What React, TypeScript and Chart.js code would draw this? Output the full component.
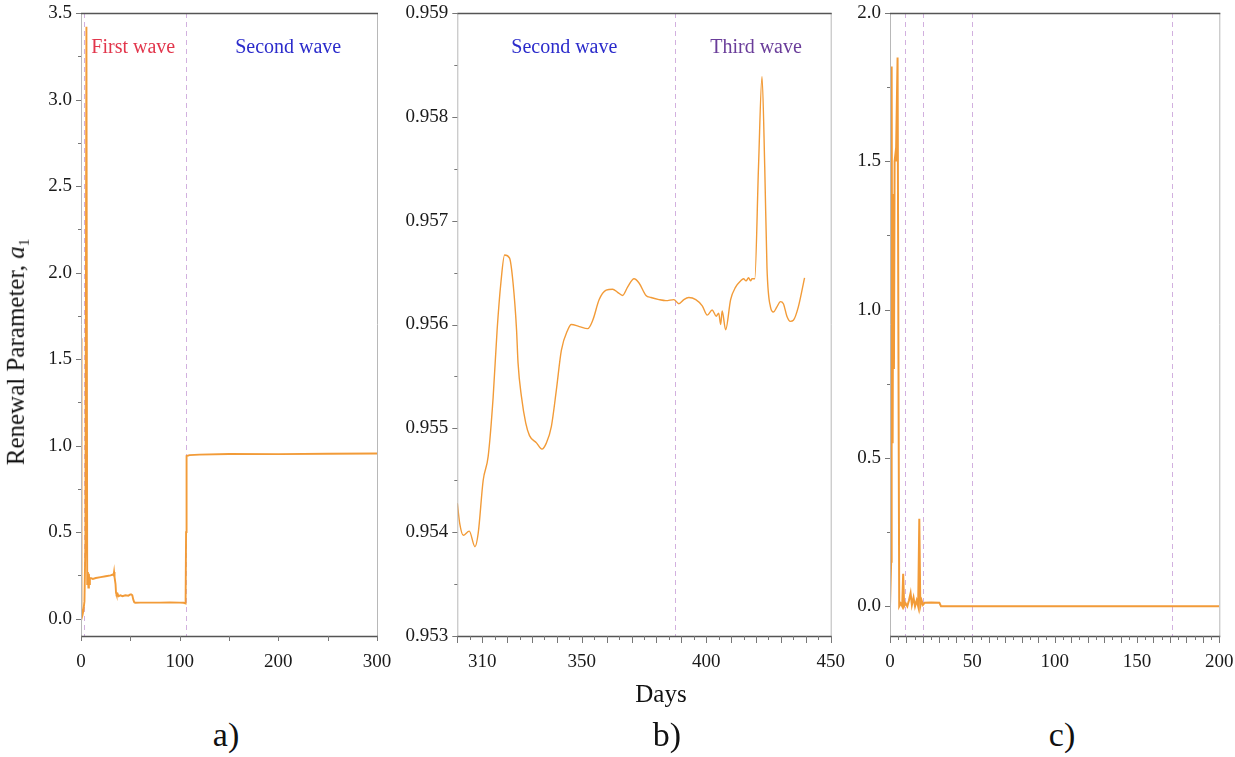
import React, { useEffect, useRef } from "react";
import { Chart, registerables } from "chart.js";
Chart.register(...registerables);

const FONT = '"Liberation Serif", "Times New Roman", serif';
const LINE_COLOR = "#F29B38";

// ---------- Panel a ----------
const daysA = [0, 0.3, 0.7, 1.5, 2.5, 3.5, 4.5, 5.5, 6.3, 7, 7.5, 8, 8.5, 9, 10, 12, 15, 20, 25, 30, 32, 33, 33.5, 34, 35, 35.5, 36, 37, 38, 40, 42, 45, 48, 50, 51, 52, 53, 54, 55, 60, 70, 80, 90, 100, 104, 106, 106.5, 107, 110, 120, 150, 200, 250, 300];
const valuesA = [1.62, 0.3, 0.0, 0.02, 0.05, 0.1, 0.45, 3.42, 0.2, 0.27, 0.18, 0.26, 0.2, 0.23, 0.235, 0.23, 0.235, 0.24, 0.245, 0.25, 0.255, 0.25, 0.27, 0.24, 0.2, 0.15, 0.14, 0.145, 0.13, 0.135, 0.13, 0.135, 0.133, 0.14, 0.14, 0.135, 0.11, 0.095, 0.092, 0.093, 0.093, 0.093, 0.094, 0.093, 0.092, 0.088, 0.5, 0.94, 0.945, 0.948, 0.952, 0.951, 0.953, 0.955];
const xLabelsA = [0, 100, 200, 300];
const xMajorA = [0, 50, 100, 150, 200, 250, 300];
const yLabelsA = [0, 0.5, 1, 1.5, 2, 2.5, 3, 3.5];
const yMinorA = [0.25, 0.75, 1.25, 1.75, 2.25, 2.75, 3.25];
const dashedA = [3.3, 106];

// ---------- Panel b ----------
const daysB = [300, 301, 302.4, 304.8, 307.1, 308.4, 310.4, 312.4, 314.4, 316, 317.5, 319, 321, 322.4, 323.8, 324.4, 325.8, 327.5, 329, 331.8, 334, 335.8, 337.8, 339.8, 341.8, 344.4, 345.8, 349, 352.4, 354.4, 357, 359.8, 362.4, 364.4, 366.4, 368.4, 371, 373, 375.8, 377.8, 381, 383.8, 387, 389, 391, 393, 395.8, 398.4, 400.4, 402.4, 404, 405, 405.8, 406.4, 407.8, 409.8, 411.8, 413.8, 415, 416, 417, 417.8, 418.4, 419.5, 421, 422.4, 423.5, 424.4, 425.8, 427, 428.4, 429.8, 431, 432.4, 433.8, 435, 437, 439.5];
const valuesB = [0.95428, 0.95408, 0.95397, 0.95401, 0.95386, 0.95399, 0.9545, 0.95473, 0.9553, 0.95595, 0.9564, 0.95667, 0.95664, 0.9564, 0.95595, 0.95563, 0.9553, 0.95505, 0.95493, 0.95486, 0.9548, 0.95486, 0.95502, 0.95537, 0.95575, 0.95595, 0.956, 0.95598, 0.95596, 0.95604, 0.95624, 0.95633, 0.95634, 0.95631, 0.95628, 0.95636, 0.95644, 0.9564, 0.95628, 0.95626, 0.95624, 0.95623, 0.95624, 0.9562, 0.95624, 0.95626, 0.95624, 0.95618, 0.95609, 0.95614, 0.95608, 0.95611, 0.956, 0.95613, 0.95595, 0.95624, 0.95636, 0.95642, 0.95644, 0.95642, 0.95645, 0.95642, 0.95644, 0.95644, 0.95752, 0.95839, 0.95752, 0.95655, 0.95617, 0.95612, 0.95617, 0.95622, 0.9562, 0.95608, 0.95603, 0.95604, 0.95617, 0.95645];
const xLabelsB = [310, 350, 400, 450];
const xMajorB = [300, 310, 320, 330, 340, 350, 360, 370, 380, 390, 400, 410, 420, 430, 440, 450];
const xMinorB = [305, 315, 325, 335, 345, 355, 365, 375, 385, 395, 405, 415, 425, 435, 445];
const yLabelsB = [0.953, 0.954, 0.955, 0.956, 0.957, 0.958, 0.959];
const yMinorB = [0.9535, 0.9545, 0.9555, 0.9565, 0.9575, 0.9585];
const dashedB = [387.6];

// ---------- Panel c ----------
const daysC = [0, 0.4, 0.7, 1, 1.3, 1.6, 2, 2.4, 2.8, 3.2, 3.6, 4.6, 5.6, 6.5, 7.4, 8, 8.6, 9.5, 10.5, 11.5, 12.5, 13.3, 14.3, 15.2, 16.2, 17.1, 17.8, 18.4, 19.2, 20, 21, 25, 30, 31, 50, 100, 150, 200];
const valuesC = [0, 0, 0.15, 1.82, 0.9, 0.55, 1.39, 0.8, 1.5, 1.52, 1.5, 1.85, 0, 0.01, 0, 0.11, 0, 0.01, 0, 0.02, 0.045, 0.005, 0.03, 0, 0.02, 0, 0.295, 0, 0.02, 0.005, 0.012, 0.013, 0.012, 0, 0, 0, 0, 0];
const xLabelsC = [0, 50, 100, 150, 200];
const xMajorC = [0, 10, 20, 30, 40, 50, 60, 70, 80, 90, 100, 110, 120, 130, 140, 150, 160, 170, 180, 190, 200];
const xMinorC = [5, 15, 25, 35, 45, 55, 65, 75, 85, 95, 105, 115, 125, 135, 145, 155, 165, 175, 185, 195];
const yLabelsC = [0, 0.5, 1, 1.5, 2];
const yMinorC = [0.25, 0.75, 1.25, 1.75];
const dashedC = [9, 20, 50, 171];

type Wave = { text: string; day: number; color: string };
type Panel = {
  days: number[]; values: number[];
  xMin: number; xMax: number; yMin: number; yMax: number;
  xLabels: number[]; xMajor: number[]; xMinor: number[]; xMajorLen: number; xMinorLen: number;
  yLabels: number[]; yMinor: number[]; yDigits: number;
  dashed: number[]; waves: Wave[];
  padLeft: number; padRight: number; yWidth: number; lineWidth: number; smooth: boolean;
};

const panelA: Panel = {
  days: daysA, values: valuesA, xMin: 0, xMax: 300, yMin: -0.1, yMax: 3.5,
  xLabels: xLabelsA, xMajor: xMajorA, xMinor: [], xMajorLen: 5, xMinorLen: 3,
  yLabels: yLabelsA, yMinor: yMinorA, yDigits: 1, dashed: dashedA,
  waves: [
    { text: "First wave", day: 53, color: "#E2364C" },
    { text: "Second wave", day: 210, color: "#2B2BCB" },
  ],
  padLeft: 0, padRight: 1235 - 377, yWidth: 81, lineWidth: 1.9, smooth: false,
};
const panelB: Panel = {
  days: daysB, values: valuesB, xMin: 300, xMax: 450, yMin: 0.953, yMax: 0.959,
  xLabels: xLabelsB, xMajor: xMajorB, xMinor: xMinorB, xMajorLen: 7, xMinorLen: 4,
  yLabels: yLabelsB, yMinor: yMinorB, yDigits: 3, dashed: dashedB,
  waves: [
    { text: "Second wave", day: 343, color: "#2B2BCB" },
    { text: "Third wave", day: 420, color: "#6A3D9A" },
  ],
  padLeft: 390, padRight: 1235 - 830.7, yWidth: 67.3, lineWidth: 1.4, smooth: true,
};
const panelC: Panel = {
  days: daysC, values: valuesC, xMin: 0, xMax: 200, yMin: -0.1, yMax: 2.0,
  xLabels: xLabelsC, xMajor: xMajorC, xMinor: xMinorC, xMajorLen: 7, xMinorLen: 4,
  yLabels: yLabelsC, yMinor: yMinorC, yDigits: 1, dashed: dashedC, waves: [],
  padLeft: 840, padRight: 1235 - 1219.3, yWidth: 50, lineWidth: 2, smooth: false,
};

function makeDecor(p: Panel) {
  return {
    id: "decor",
    beforeDatasetsDraw(chart: any) {
      const { ctx, chartArea: ca, scales } = chart;
      ctx.save();
      ctx.strokeStyle = "#D2B0DF";
      ctx.lineWidth = 1;
      ctx.setLineDash([5, 4]);
      for (const d of p.dashed) {
        const px = Math.round(scales.x.getPixelForValue(d)) + 0.5;
        ctx.beginPath();
        ctx.moveTo(px, ca.top);
        ctx.lineTo(px, ca.bottom);
        ctx.stroke();
      }
      ctx.restore();
    },
    afterDraw(chart: any) {
      const { ctx, chartArea: ca, scales } = chart;
      const x = scales.x, y = scales.y;
      ctx.save();
      ctx.setLineDash([]);
      // frame
      ctx.lineWidth = 1;
      ctx.strokeStyle = "#B8B8B8";
      ctx.beginPath();
      ctx.moveTo(ca.left + 0.5, ca.top); ctx.lineTo(ca.left + 0.5, ca.bottom);
      ctx.moveTo(ca.right + 0.5, ca.top); ctx.lineTo(ca.right + 0.5, ca.bottom);
      ctx.stroke();
      ctx.strokeStyle = "#555";
      ctx.lineWidth = 1.3;
      ctx.beginPath();
      ctx.moveTo(ca.left, ca.top + 0.5); ctx.lineTo(ca.right + 1, ca.top + 0.5);
      ctx.moveTo(ca.left, ca.bottom + 0.5); ctx.lineTo(ca.right + 1, ca.bottom + 0.5);
      ctx.stroke();
      // ticks
      ctx.strokeStyle = "#777";
      ctx.lineWidth = 1;
      ctx.beginPath();
      for (const v of p.xMajor) {
        const px = Math.round(x.getPixelForValue(v)) + 0.5;
        ctx.moveTo(px, ca.bottom); ctx.lineTo(px, ca.bottom + p.xMajorLen);
      }
      for (const v of p.xMinor) {
        const px = Math.round(x.getPixelForValue(v)) + 0.5;
        ctx.moveTo(px, ca.bottom); ctx.lineTo(px, ca.bottom + p.xMinorLen);
      }
      for (const v of p.yLabels) {
        const py = Math.round(y.getPixelForValue(v)) + 0.5;
        ctx.moveTo(ca.left, py); ctx.lineTo(ca.left - 5, py);
      }
      for (const v of p.yMinor) {
        const py = Math.round(y.getPixelForValue(v)) + 0.5;
        ctx.moveTo(ca.left, py); ctx.lineTo(ca.left - 3, py);
      }
      ctx.stroke();
      // wave labels
      ctx.font = `20px ${FONT}`;
      ctx.textAlign = "center";
      ctx.textBaseline = "alphabetic";
      for (const w of p.waves) {
        ctx.fillStyle = w.color;
        ctx.fillText(w.text, x.getPixelForValue(w.day), ca.top + 40);
      }
      ctx.restore();
    },
  };
}

function makeChart(canvas: HTMLCanvasElement, p: Panel) {
  return new Chart(canvas, {
    type: "line",
    data: {
      datasets: [
        {
          data: p.days.map((d, i) => ({ x: d, y: p.values[i] })),
          borderColor: LINE_COLOR,
          borderWidth: p.lineWidth,
          pointRadius: 0,
          tension: 0,
          cubicInterpolationMode: p.smooth ? "monotone" : "default",
          fill: false,
        } as any,
      ],
    },
    options: {
      animation: false,
      responsive: false,
      events: [],
      layout: { padding: { left: p.padLeft, right: p.padRight, top: 13, bottom: 0 } },
      plugins: { legend: { display: false }, tooltip: { enabled: false } },
      scales: {
        x: {
          type: "linear",
          min: p.xMin,
          max: p.xMax,
          grid: { display: false, drawTicks: false },
          border: { display: false },
          ticks: {
            autoSkip: false,
            maxRotation: 0,
            padding: 15,
            color: "#1a1a1a",
            font: { family: FONT, size: 19 },
            callback: (v: any) => String(v),
          },
          afterBuildTicks: (s: any) => {
            s.ticks = p.xLabels.map((v) => ({ value: v }));
          },
          afterFit: (s: any) => {
            s.height = 64;
            s.paddingLeft = 0;
            s.paddingRight = 0;
          },
        },
        y: {
          type: "linear",
          min: p.yMin,
          max: p.yMax,
          grid: { display: false, drawTicks: false },
          border: { display: false },
          ticks: {
            autoSkip: false,
            padding: 9,
            color: "#1a1a1a",
            font: { family: FONT, size: 19 },
            callback: (v: any) => Number(v).toFixed(p.yDigits),
          },
          afterBuildTicks: (s: any) => {
            s.ticks = p.yLabels.map((v) => ({ value: v }));
          },
          afterFit: (s: any) => {
            s.width = p.yWidth;
            s.paddingTop = 0;
            s.paddingBottom = 0;
          },
        },
      },
    } as any,
    plugins: [makeDecor(p)],
  });
}

export default function App() {
  const refA = useRef<HTMLCanvasElement>(null);
  const refB = useRef<HTMLCanvasElement>(null);
  const refC = useRef<HTMLCanvasElement>(null);

  useEffect(() => {
    const charts = [
      makeChart(refA.current!, panelA),
      makeChart(refB.current!, panelB),
      makeChart(refC.current!, panelC),
    ];
    return () => charts.forEach((c) => c.destroy());
  }, []);

  const canvasStyle: React.CSSProperties = { position: "absolute", left: 0, top: 0 };
  const label = (left: number, top: number, size: number): React.CSSProperties => ({
    position: "absolute",
    left,
    top,
    transform: "translateX(-50%)",
    fontSize: size,
    lineHeight: `${size}px`,
    whiteSpace: "nowrap",
    color: "#111",
  });

  return (
    <div
      style={{
        position: "absolute",
        left: 0,
        top: 0,
        width: 1235,
        height: 757,
        background: "#fff",
        overflow: "hidden",
        fontFamily: FONT,
      }}
    >
      <canvas ref={refA} width={1235} height={700} style={canvasStyle} />
      <canvas ref={refB} width={1235} height={700} style={canvasStyle} />
      <canvas ref={refC} width={1235} height={700} style={canvasStyle} />
      <div
        style={{
          position: "absolute",
          left: 20,
          top: 352,
          transform: "translate(-50%, -50%) rotate(-90deg)",
          fontSize: 25,
          lineHeight: "25px",
          whiteSpace: "nowrap",
          color: "#111",
        }}
      >
        Renewal Parameter, <i>a</i>
        <sub style={{ fontSize: 15, verticalAlign: "-0.35em" }}>1</sub>
      </div>
      <div style={label(661, 681, 25)}>Days</div>
      <div style={label(226, 718, 34)}>a)</div>
      <div style={label(667, 718, 34)}>b)</div>
      <div style={label(1062, 718, 34)}>c)</div>
    </div>
  );
}
